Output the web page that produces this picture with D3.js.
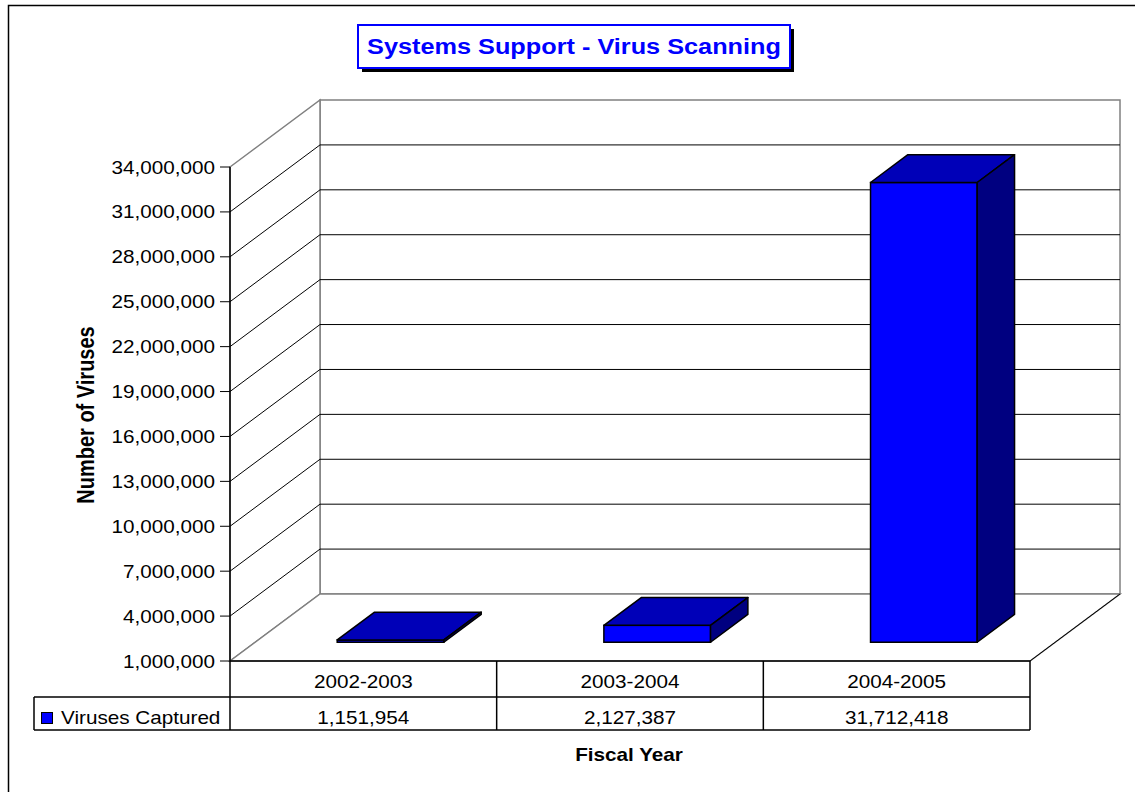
<!DOCTYPE html>
<meta charset="utf-8">
<head>
    <script src="https://d3js.org/d3.v7.min.js"></script>
    <style>
        body { margin: 0; background: white; }
        text { font-family: Arial, "Liberation Sans", sans-serif; }
    </style>
</head>
<body>
    <div id="chart"></div>
    <script>
        // chart data
        var categories = ["2002-2003", "2003-2004", "2004-2005"];
        var values = [1151954, 2127387, 31712418];
        var seriesName = "Viruses Captured";
        var yTicks = [1000000, 4000000, 7000000, 10000000, 13000000, 16000000,
                      19000000, 22000000, 25000000, 28000000, 31000000, 34000000];

        var width = 1135, height = 792;
        var sx = 1.15; // the picture is wider than tall, stretch the text like it

        var svg = d3.select("#chart").append("svg")
            .attr("width", width)
            .attr("height", height);

        // plot area and 3D depth
        var plotLeft = 230, plotRight = 1030, plotBottom = 661, plotTop = 167;
        var depthX = 90, depthY = -67;
        var barFront = 0.28, barBack = 0.695;

        var x = d3.scaleBand().domain(categories).range([plotLeft, plotRight]);
        var y = d3.scaleLinear().domain([1000000, 34000000]).range([plotBottom, plotTop]);
        var fmt = d3.format(",");

        function label(g, px, py, str, anchor, weight, size, color) {
            return g.append("text")
                .attr("transform", "translate(" + px + "," + py + ") scale(" + sx + ",1)")
                .attr("text-anchor", anchor || "middle")
                .attr("font-size", size || 18)
                .attr("font-weight", weight || "normal")
                .attr("fill", color || "#000")
                .text(str);
        }

        // outer frame (left and top edges visible)
        svg.append("path")
            .attr("d", "M8.5,792V5.5H1135")
            .attr("fill", "none")
            .attr("stroke", "#000")
            .attr("stroke-width", 1.5);

        // walls and floor
        var walls = svg.append("g");
        walls.append("rect")
            .attr("x", plotLeft + depthX).attr("y", plotTop + depthY)
            .attr("width", plotRight - plotLeft).attr("height", plotBottom - plotTop)
            .attr("fill", "white").attr("stroke", "#808080").attr("stroke-width", 1.5);
        walls.append("polygon")
            .attr("points", [[plotLeft, plotTop], [plotLeft + depthX, plotTop + depthY], [plotLeft + depthX, plotBottom + depthY], [plotLeft, plotBottom]].join(" "))
            .attr("fill", "white").attr("stroke", "#808080").attr("stroke-width", 1.5);
        walls.append("polygon")
            .attr("points", [[plotLeft, plotBottom], [plotRight, plotBottom], [plotRight + depthX, plotBottom + depthY], [plotLeft + depthX, plotBottom + depthY]].join(" "))
            .attr("fill", "white").attr("stroke", "#808080").attr("stroke-width", 1.5);
        // right floor edge is dark
        walls.append("line")
            .attr("x1", plotRight).attr("y1", plotBottom)
            .attr("x2", plotRight + depthX).attr("y2", plotBottom + depthY)
            .attr("stroke", "#000");

        // gridlines on the back and left walls
        var grid = svg.append("g");
        yTicks.slice(1, -1).forEach(function(t) {
            grid.append("line")
                .attr("x1", plotLeft + depthX).attr("x2", plotRight + depthX)
                .attr("y1", y(t) + depthY).attr("y2", y(t) + depthY)
                .attr("stroke", "#000");
            grid.append("line")
                .attr("x1", plotLeft).attr("y1", y(t))
                .attr("x2", plotLeft + depthX).attr("y2", y(t) + depthY)
                .attr("stroke", "#000");
        });

        // y axis
        var axis = svg.append("g");
        axis.append("line")
            .attr("x1", plotLeft).attr("x2", plotLeft)
            .attr("y1", plotTop).attr("y2", plotBottom)
            .attr("stroke", "#000").attr("stroke-width", 1.5);
        yTicks.forEach(function(t) {
            axis.append("line")
                .attr("x1", plotLeft - 10).attr("x2", plotLeft)
                .attr("y1", y(t)).attr("y2", y(t))
                .attr("stroke", "#000");
            label(axis, 215, y(t) + 6.5, fmt(t), "end");
        });

        // bars
        var bars = svg.append("g");
        var bw = x.bandwidth() * 0.4;
        categories.forEach(function(c, i) {
            var fx = x(c) + x.bandwidth() / 2 - bw / 2 + barFront * depthX + 2;
            var fy0 = y(1000000) + barFront * depthY;
            var fy1 = y(values[i]) + barFront * depthY;
            var ox = (barBack - barFront) * depthX;
            var oy = (barBack - barFront) * depthY;
            // front face
            bars.append("rect")
                .attr("x", fx).attr("y", fy1)
                .attr("width", bw).attr("height", fy0 - fy1)
                .attr("fill", "#0000ff").attr("stroke", "#000").attr("stroke-width", 1.5);
            // top
            bars.append("polygon")
                .attr("points", [[fx, fy1], [fx + ox, fy1 + oy], [fx + bw + ox, fy1 + oy], [fx + bw, fy1]].join(" "))
                .attr("fill", "#0000b8").attr("stroke", "#000").attr("stroke-width", 1.5)
                .attr("stroke-linejoin", "round");
            // side
            bars.append("polygon")
                .attr("points", [[fx + bw, fy1], [fx + bw + ox, fy1 + oy], [fx + bw + ox, fy0 + oy], [fx + bw, fy0]].join(" "))
                .attr("fill", "#000080").attr("stroke", "#000").attr("stroke-width", 1.5)
                .attr("stroke-linejoin", "round");
        });

        // data table
        var table = svg.append("g");
        var row1 = 697, row2 = 730, legLeft = 34;
        table.append("line").attr("x1", plotLeft).attr("x2", plotRight).attr("y1", plotBottom).attr("y2", plotBottom)
            .attr("stroke", "#000").attr("stroke-width", 1.5);
        table.append("line").attr("x1", legLeft).attr("x2", plotRight).attr("y1", row1).attr("y2", row1)
            .attr("stroke", "#000").attr("stroke-width", 1.5);
        table.append("line").attr("x1", legLeft).attr("x2", plotRight).attr("y1", row2).attr("y2", row2)
            .attr("stroke", "#000").attr("stroke-width", 1.5);
        table.append("line").attr("x1", legLeft).attr("x2", legLeft).attr("y1", row1).attr("y2", row2)
            .attr("stroke", "#000").attr("stroke-width", 1.5);
        categories.forEach(function(c, i) {
            table.append("line").attr("x1", x(c)).attr("x2", x(c)).attr("y1", plotBottom).attr("y2", row2)
                .attr("stroke", "#000").attr("stroke-width", 1.5);
            label(table, x(c) + x.bandwidth() / 2, 688, c);
            label(table, x(c) + x.bandwidth() / 2, 724, fmt(values[i]));
        });
        table.append("line").attr("x1", plotRight).attr("x2", plotRight).attr("y1", plotBottom).attr("y2", row2)
            .attr("stroke", "#000").attr("stroke-width", 1.5);
        table.append("rect")
            .attr("x", 41.5).attr("y", 712.5).attr("width", 11).attr("height", 11)
            .attr("fill", "#0000ff").attr("stroke", "#000");
        label(table, 61, 724, seriesName, "start");

        // axis titles
        label(svg, 629, 761, "Fiscal Year", "middle", "bold");
        svg.append("text")
            .attr("transform", "translate(94,415) rotate(-90) scale(1," + sx + ")")
            .attr("text-anchor", "middle")
            .attr("font-size", 20)
            .attr("font-weight", "bold")
            .text("Number of Viruses");

        // title box with shadow
        var tg = svg.append("g");
        tg.append("rect").attr("x", 362).attr("y", 29).attr("width", 432).attr("height", 43).attr("fill", "#000");
        tg.append("rect").attr("x", 358).attr("y", 25).attr("width", 432).attr("height", 43)
            .attr("fill", "white").attr("stroke", "#0000ff").attr("stroke-width", 2);
        label(tg, 574, 54, "Systems Support - Virus Scanning", "middle", "bold", 22, "#0000ff");
    </script>
</body>
